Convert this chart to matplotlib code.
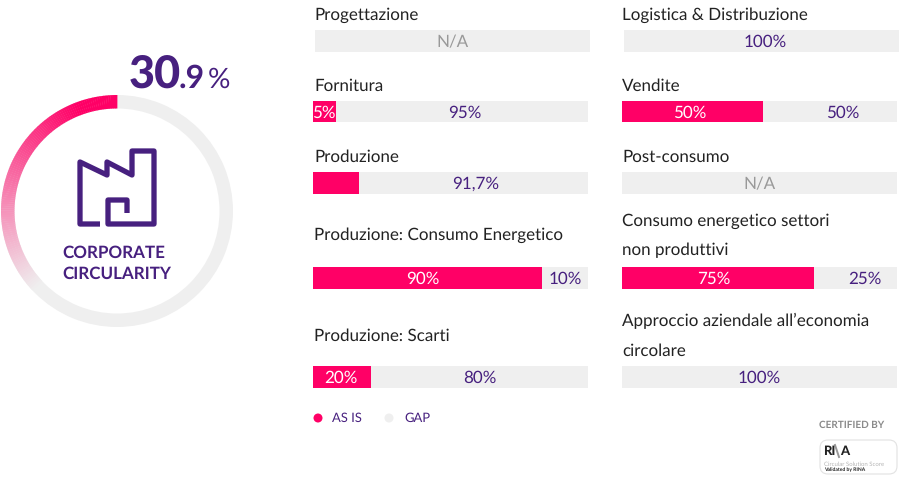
import matplotlib
matplotlib.use('Agg')
import matplotlib.pyplot as plt
from matplotlib.colors import to_rgb
from matplotlib.patches import Circle, FancyBboxPatch, Wedge

plt.rcParams['font.family'] = ['Lato', 'DejaVu Sans']
plt.rcParams['text.hinting'] = 'no_hinting'
plt.rcParams['text.hinting_factor'] = 1

PINK = '#ff0066'
GREY = '#efefef'
PURPLE = '#47207f'
W, H = 900, 480

# left column, then right column
left_names = ['Progettazione', 'Fornitura', 'Produzione',
              'Produzione: Consumo Energetico', 'Produzione: Scarti']
left_as_is = [0, 8.4, 16.7, 83.3, 21.2]
left_as_is_labels = ['', '5%', '', '90%', '20%']
left_gap_labels = ['N/A', '95%', '91,7%', '10%', '80%']

right_names = ['Logistica & Distribuzione', 'Vendite', 'Post-consumo',
               'Consumo energetico settori\nnon produttivi',
               'Approccio aziendale all’economia\ncircolare']
right_as_is = [0, 51.4, 0, 69.8, 0]
right_as_is_labels = ['', '50%', '', '75%', '']
right_gap_labels = ['100%', '50%', 'N/A', '25%', '100%']

bar_tops = [30, 101, 172, 267, 366]
left_label_y = [15, 86, 157, 235, 336]
right_label_y = [15, 86, 157, 236, 336]
# the gap labels are not quite centred in the original
left_gap_nudge = [0, 1, 0.7, 0, 0]
right_gap_nudge = [1.5, 4.4, 0, 3.3, 0]

score_whole = '30'
score_decimal = '.9'
ring_fade_end = 37


def draw_bar(x0, top, as_is, as_is_label, gap_label, nudge):
    ax = fig.add_axes([x0 / W, 1 - (top + 21.5) / H, 275 / W, 21.5 / H])
    ax.barh([0], [as_is], height=1, color=PINK)
    ax.barh([0], [100 - as_is], left=[as_is], height=1, color=GREY)
    ax.set_xlim(0, 100)
    ax.set_ylim(-0.5, 0.5)
    ax.axis('off')
    if as_is_label:
        ax.text(as_is * 0.48, -0.07, as_is_label, color='white', fontsize=12,
                ha='center', va='center')
    gap_color = '#999999' if gap_label == 'N/A' else PURPLE
    ax.text((as_is + 100) / 2 + nudge, -0.07, gap_label, color=gap_color,
            fontsize=12, ha='center', va='center')


def draw_ring(bg):
    cx, cy, r = 117, 211, 116
    bg.add_patch(Wedge((cx, cy), r, 0, 360, width=13.5, color=GREY, lw=0))
    # matplotlib angles run the other way here because the y axis is flipped
    steps = 120
    pink = to_rgb(PINK)
    grey = to_rgb(GREY)
    for i in range(steps):
        t = i / steps
        a0 = 270 - (i + 1) / steps * ring_fade_end * 3.6
        a1 = 270 - i / steps * ring_fade_end * 3.6 + 0.2
        mix = max(0, (t - 0.15) / 0.85)
        color = [p + (g - p) * mix for p, g in zip(pink, grey)]
        bg.add_patch(Wedge((cx, cy), r, a0, a1, width=13.5, color=color, lw=0))


def draw_factory(bg):
    xs = [100, 80, 80, 107, 107, 132, 132, 154, 154, 108, 108, 127, 127]
    ys = [224, 224, 162, 175, 162, 175, 151, 151, 224, 224, 200, 200, 213]
    bg.plot(xs, ys, color=PURPLE, lw=3.8, solid_joinstyle='round',
            solid_capstyle='butt')


def draw_logo(bg):
    bg.text(851.5, 425, 'CERTIFIED BY', color='#8a8a8a', fontsize=7.4,
            fontweight='bold', ha='center', va='center')
    bg.add_patch(FancyBboxPatch((820, 440), 77, 34,
                                boxstyle='round,pad=0,rounding_size=8',
                                fc='white', ec='#e2e2e2', lw=0.8))
    bg.text(823, 451, 'RI', color='#222222', fontsize=9.5, fontweight='black',
            va='center')
    bg.text(840, 451, 'A', color='#222222', fontsize=9.5, fontweight='black',
            va='center')
    bg.plot([835, 839], [445, 457], color='#999999', lw=1.4)
    bg.text(824, 464, 'Circular Solution Score', color='#b5b5b5', fontsize=4.6,
            va='center')
    bg.text(824, 470, 'Validated by RINA', color='#222222', fontsize=3.4,
            fontweight='bold', va='center')


fig = plt.figure(figsize=(9, 4.8), dpi=100)
bg = fig.add_axes([0, 0, 1, 1])
bg.set_xlim(0, W)
bg.set_ylim(H, 0)
bg.axis('off')

draw_ring(bg)
draw_factory(bg)

bg.text(129, 88, score_whole, color=PURPLE, fontsize=32.5, fontweight='black',
        va='baseline')
bg.text(179, 88, score_decimal, color=PURPLE, fontsize=23, fontweight='bold',
        va='baseline')
bg.text(208, 88, '%', color=PURPLE, fontsize=20, va='baseline')
bg.text(62, 263.5, 'CORPORATE\nCIRCULARITY', color=PURPLE, fontsize=12,
        fontweight='bold', va='center', linespacing=1.4)

for i in range(5):
    bg.text(314, left_label_y[i], left_names[i], color='#222222', fontsize=12.2,
            va='center')
    draw_bar(315 if i == 0 else 313, bar_tops[i], left_as_is[i],
             left_as_is_labels[i], left_gap_labels[i], left_gap_nudge[i])
    bg.text(622, right_label_y[i], right_names[i], color='#222222', fontsize=12.2,
            va='center', linespacing=2.1)
    draw_bar(624 if i == 0 else 622, bar_tops[i], right_as_is[i],
             right_as_is_labels[i], right_gap_labels[i], right_gap_nudge[i])

# legend
bg.add_patch(Circle((318, 418), 4.5, color=PINK, lw=0))
bg.text(332, 418.5, 'AS IS', color=PURPLE, fontsize=9.5, va='center')
bg.add_patch(Circle((389, 418), 4.5, color=GREY, lw=0))
bg.text(404, 418.5, 'GAP', color=PURPLE, fontsize=9.5, va='center')

draw_logo(bg)

fig.savefig('out.png', dpi=100)
